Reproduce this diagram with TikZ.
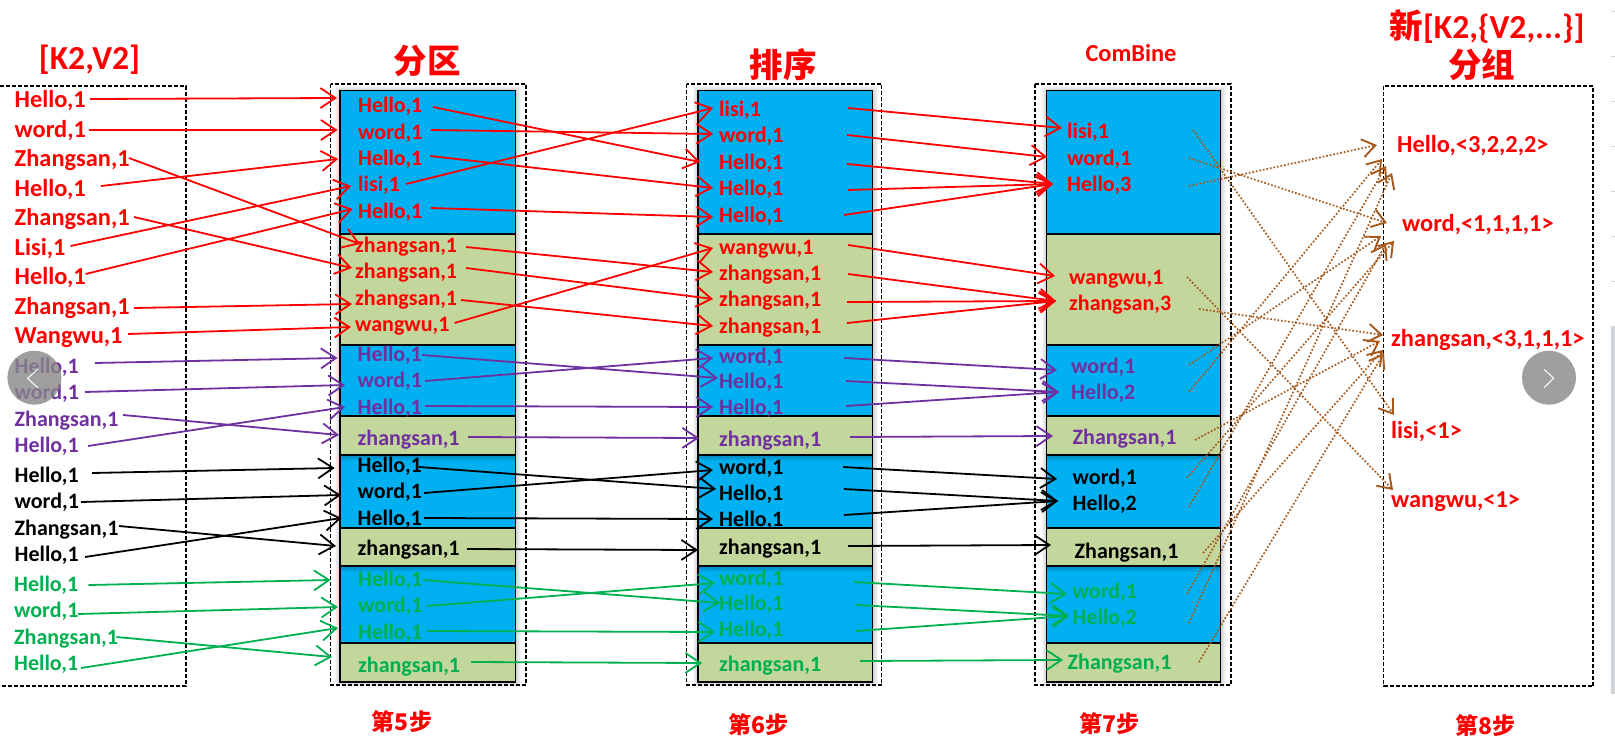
\documentclass[tikz,border=0pt]{standalone}
\usepackage{fontspec}
\setmainfont{Carlito}
\newfontfamily\cjk{Noto Sans CJK SC}
\usetikzlibrary{arrows.meta}
\definecolor{cblue}{HTML}{00B0F0}
\definecolor{cblued}{HTML}{0088BC}
\definecolor{cgreenbox}{HTML}{C3D69B}
\definecolor{cpurple}{HTML}{7030A0}
\definecolor{cgreen}{HTML}{00B050}
\definecolor{cbrown}{HTML}{A5591C}
\definecolor{cband}{HTML}{D2D5D8}
\tikzset{
 lbl/.style={anchor=west,inner sep=0pt,text height=18pt,text depth=3pt,font=\bfseries\fontsize{22}{24}\selectfont},
 lblbig/.style={lbl,font=\bfseries\fontsize{24.4}{27}\selectfont},
 lr/.style={lbl,text=red}, lp/.style={lbl,text=cpurple}, lk/.style={lbl,text=black}, lg/.style={lbl,text=cgreen},
 lrb/.style={lblbig,text=red},
 ttl/.style={inner sep=0pt,text=red,font=\bfseries\fontsize{33.6}{36}\selectfont},
 cjkttl/.style={inner sep=0pt,text=red,font=\cjk\bfseries\fontsize{33.5}{36}\selectfont},
 stepl/.style={inner sep=0pt,text=red,font=\cjk\bfseries\fontsize{23}{26}\selectfont},
 dbox/.style={draw=black,line width=1.4pt,dash pattern=on 4pt off 2pt},
 seg/.style={draw=black,line width=1.1pt},
 ra/.style={draw=red,line width=1.8pt,-{Straight Barb[length=15pt,width=20pt,line width=1.8pt]}},
 pa/.style={ra,draw=cpurple},
 ka/.style={ra,draw=black},
 ga/.style={ra,draw=cgreen},
 da/.style={draw=cbrown,line width=1.7pt,dash pattern=on 1.7pt off 1.9pt,-{Straight Barb[length=13pt,width=18pt,line width=1.9pt]}},
}
\newcommand{\conn}[7]{\draw[#1] ([shift={(#3,#4)}]#2.west) -- ([shift={(#6,#7)}]#5.west);}
\newcommand{\column}[2]{%
 \foreach \i in {1,...,5}{\fill[black,opacity=.035] (#1-\i,89.5-\i) rectangle (#2+\i,681+\i);}
 \fill[cblue] (#1,89.5) rectangle (#2,233);
 \fill[cgreenbox] (#1,233) rectangle (#2,344);
 \fill[cblue] (#1,344) rectangle (#2,415);
 \fill[cgreenbox] (#1,415) rectangle (#2,454);
 \fill[cblue] (#1,454) rectangle (#2,527);
 \fill[cgreenbox] (#1,527) rectangle (#2,565);
 \fill[cblue] (#1,565) rectangle (#2,642);
 \fill[cgreenbox] (#1,642) rectangle (#2,681);
 \shade[top color=cblued,bottom color=cblue] (#1,454) rectangle (#2,460);
 \shade[top color=cblued,bottom color=cblue] (#1,565) rectangle (#2,571);
 \draw[seg] (#1,89.5) rectangle (#2,681);
 \foreach \yy in {233,344,415,454,527,565,642}{\draw[seg] (#1,\yy) -- (#2,\yy);}
}
\begin{document}
\begin{tikzpicture}[x=1pt,y=-1pt]
\useasboundingbox (0,0) rectangle (1615,736);
\begin{scope}[yshift=-1pt]
% page furniture at the right edge
\fill[cband] (1611,325) rectangle (1615,693);
\foreach \yy in {10,55,100,145,190,235,280}{\draw[cband,line width=.8pt] (1611,\yy) -- (1615,\yy);}
% columns
\column{340}{515.7}
\column{698}{872.5}
\column{1046.5}{1220.5}
\draw[dbox] (0,85) -- (186,85) -- (186,685) -- (0,685);
\draw[dbox] (330.6,83) rectangle (526,684);
\draw[dbox] (686.7,83) rectangle (881.7,684);
\draw[dbox] (1035,83) rectangle (1231,684);
\draw[dbox] (1383.5,85) rectangle (1593,685);
% titles
\node[ttl] (t1) at (89.5,59) {[K2,V2]};
\node[cjkttl] (t2) at (427,60) {分区};
\node[cjkttl] (t3) at (783,64) {排序};
\node[inner sep=0pt,text=red,font=\fontsize{24.4}{27}\selectfont\bfseries] (t4) at (1131,52.5) {ComBine};
\node[ttl] (t5) at (1487,25.5) {{\cjk 新}[K2,\{V2,...\}]};
\node[cjkttl] (t6) at (1481.5,64) {分组};
\node[stepl] (s5) at (402,721) {第5步};
\node[stepl] (s6) at (758,724) {第6步};
\node[stepl] (s7) at (1109,723) {第7步};
\node[stepl] (s8) at (1485,725) {第8步};
% column 1
\node[lrb] (a1) at (14.5,99) {Hello,1};
\node[lrb] (a2) at (14.5,129) {word,1};
\node[lrb] (a3) at (14.5,158) {Zhangsan,1};
\node[lrb] (a4) at (14.5,188) {Hello,1};
\node[lrb] (a5) at (14.5,217) {Zhangsan,1};
\node[lrb] (a6) at (14.5,247) {Lisi,1};
\node[lrb] (a7) at (14.5,276) {Hello,1};
\node[lrb] (a8) at (14.5,306) {Zhangsan,1};
\node[lrb] (a9) at (14.5,335) {Wangwu,1};
\node[lp] (ap1) at (14.5,365) {Hello,1};
\node[lp] (ap2) at (14.5,391) {word,1};
\node[lp] (ap3) at (14.5,418) {Zhangsan,1};
\node[lp] (ap4) at (14.5,444) {Hello,1};
\node[lk] (ak1) at (14.5,474) {Hello,1};
\node[lk] (ak2) at (14.5,500) {word,1};
\node[lk] (ak3) at (14.5,527) {Zhangsan,1};
\node[lk] (ak4) at (14.5,553) {Hello,1};
\node[lg] (ag1) at (14,583) {Hello,1};
\node[lg] (ag2) at (14,609) {word,1};
\node[lg] (ag3) at (14,636) {Zhangsan,1};
\node[lg] (ag4) at (14,662) {Hello,1};
% column 2
\node[lr] (b1) at (358,104) {Hello,1};
\node[lr] (b2) at (358,131) {word,1};
\node[lr] (b3) at (358,157) {Hello,1};
\node[lr] (b4) at (358,183) {lisi,1};
\node[lr] (b5) at (358,210) {Hello,1};
\node[lr] (b6) at (355,244) {zhangsan,1};
\node[lr] (b7) at (355,270) {zhangsan,1};
\node[lr] (b8) at (355,297) {zhangsan,1};
\node[lr] (b9) at (355,323) {wangwu,1};
\node[lp] (bp1) at (357.5,353) {Hello,1};
\node[lp] (bp2) at (357.5,379) {word,1};
\node[lp] (bp3) at (357.5,406) {Hello,1};
\node[lp] (bp4) at (357.5,437) {zhangsan,1};
\node[lk] (bk1) at (357.5,464) {Hello,1};
\node[lk] (bk2) at (357.5,490) {word,1};
\node[lk] (bk3) at (357.5,517) {Hello,1};
\node[lk] (bk4) at (357.5,547) {zhangsan,1};
\node[lg] (bg1) at (358,578) {Hello,1};
\node[lg] (bg2) at (358,604) {word,1};
\node[lg] (bg3) at (358,631) {Hello,1};
\node[lg] (bg4) at (358,664) {zhangsan,1};
% column 3
\node[lr] (c1) at (719,108) {lisi,1};
\node[lr] (c2) at (719,134) {word,1};
\node[lr] (c3) at (719,161) {Hello,1};
\node[lr] (c4) at (719,187) {Hello,1};
\node[lr] (c5) at (719,214) {Hello,1};
\node[lr] (c6) at (719,246) {wangwu,1};
\node[lr] (c7) at (719,272) {zhangsan,1};
\node[lr] (c8) at (719,298) {zhangsan,1};
\node[lr] (c9) at (719,325) {zhangsan,1};
\node[lp] (cp1) at (719,355) {word,1};
\node[lp] (cp2) at (719,380) {Hello,1};
\node[lp] (cp3) at (719,406) {Hello,1};
\node[lp] (cp4) at (719,438) {zhangsan,1};
\node[lk] (ck1) at (719,466) {word,1};
\node[lk] (ck2) at (719,492) {Hello,1};
\node[lk] (ck3) at (719,518) {Hello,1};
\node[lk] (ck4) at (719,546) {zhangsan,1};
\node[lg] (cg1) at (719,577) {word,1};
\node[lg] (cg2) at (719,602) {Hello,1};
\node[lg] (cg3) at (719,628) {Hello,1};
\node[lg] (cg4) at (719,663) {zhangsan,1};
% column 4
\node[lr] (d1) at (1067,130) {lisi,1};
\node[lr] (d2) at (1067,157) {word,1};
\node[lr] (d3) at (1067,183) {Hello,3};
\node[lr] (d4) at (1069,276) {wangwu,1};
\node[lr] (d5) at (1069,302) {zhangsan,3};
\node[lp] (dp1) at (1071,365) {word,1};
\node[lp] (dp2) at (1071,391) {Hello,2};
\node[lp] (dp3) at (1072.5,436) {Zhangsan,1};
\node[lk] (dk1) at (1072.5,476) {word,1};
\node[lk] (dk2) at (1072.5,502) {Hello,2};
\node[lk] (dk3) at (1074.5,550) {Zhangsan,1};
\node[lg] (dg1) at (1072.5,590) {word,1};
\node[lg] (dg2) at (1072.5,616) {Hello,2};
\node[lg] (dg3) at (1067.5,661) {Zhangsan,1};
% result column
\node[lrb] (r1) at (1397,144) {Hello,<3,2,2,2>};
\node[lrb] (r2) at (1402,223) {word,<1,1,1,1>};
\node[lrb] (r3) at (1391,338) {zhangsan,<3,1,1,1>};
\node[lrb] (r4) at (1391,430) {lisi,<1>};
\node[lrb] (r5) at (1391,499) {wangwu,<1>};
% a -> b
\conn{ra}{a1}{75.5}{-1}{b1}{-21}{-7}
\conn{ra}{a2}{74}{0}{b2}{-20.5}{-2}
\conn{ra}{a3}{114.5}{-1}{b6}{5}{-1}
\conn{ra}{a4}{86.5}{-3}{b3}{-20}{1}
\conn{ra}{a5}{119.5}{-1}{b7}{-3}{-3}
\conn{ra}{a6}{56}{-2}{b4}{-7}{2}
\conn{ra}{a7}{71}{-3}{b5}{-5.4}{-2}
\conn{ra}{a8}{119.5}{1}{b8}{-3}{6}
\conn{ra}{a9}{113.5}{-2}{b9}{-4}{3}
\conn{pa}{ap1}{80.5}{-3}{bp1}{-20}{4}
\conn{pa}{ap2}{70.5}{0}{bp2}{-12.5}{5}
\conn{pa}{ap3}{108.5}{-4}{bp4}{-18.5}{-3}
\conn{pa}{ap4}{73.5}{1}{bp3}{-12.5}{0}
\conn{ka}{ak1}{77.5}{-2}{bk1}{-22.8}{3}
\conn{ka}{ak2}{66.5}{1}{bk2}{-16.5}{4}
\conn{ka}{ak3}{104.5}{-2}{bk4}{-21.5}{-2}
\conn{ka}{ak4}{70.5}{3}{bk3}{-16}{0}
\conn{ga}{ag1}{74.5}{1}{bg1}{-27.4}{1}
\conn{ga}{ag2}{64}{4}{bg2}{-20}{2}
\conn{ga}{ag3}{102.4}{0}{bg4}{-26}{-8}
\conn{ga}{ag4}{67}{5}{bg3}{-20}{-4}
% b -> c
\conn{ra}{b1}{75}{2}{c3}{-19}{0}
\conn{ra}{b2}{73}{-2}{c2}{-6}{-1}
\conn{ra}{b3}{72}{-2}{c4}{-6}{0}
\conn{ra}{b4}{48}{0}{c1}{-6}{-1}
\conn{ra}{b5}{73}{-3}{c5}{-6}{2}
\conn{ra}{b6}{111}{2}{c7}{-6}{-1}
\conn{ra}{b7}{111}{-3}{c8}{-6}{0}
\conn{ra}{b8}{106}{2}{c9}{-6}{0}
\conn{ra}{b9}{99.5}{-1}{c6}{-6}{1}
\conn{pa}{bp1}{64.5}{1}{cp2}{-1}{-3}
\conn{pa}{bp2}{67.5}{1}{cp1}{-6}{2}
\conn{pa}{bp3}{67.5}{-1}{cp3}{-6}{0}
\conn{pa}{bp4}{110.5}{-1}{cp4}{-20}{-1}
\conn{ka}{bk1}{61.5}{2}{ck2}{-3}{-4}
\conn{ka}{bk2}{66.5}{2}{ck1}{-6}{3}
\conn{ka}{bk3}{66.5}{0}{ck3}{-6}{0}
\conn{ka}{bk4}{109.5}{1}{ck4}{-21}{3}
\conn{ga}{bg1}{65}{1}{cg2}{1}{0}
\conn{ga}{bg2}{69}{1}{cg1}{-4}{5}
\conn{ga}{bg3}{69}{-1}{cg3}{-4}{3}
\conn{ga}{bg4}{113}{-3}{cg4}{-17}{-1}
% c -> d
\conn{ra}{c1}{129}{-1}{d1}{-5}{-3}
\conn{ra}{c2}{128}{0}{d2}{-20}{-1}
\conn{ra}{c3}{128}{2}{d3}{-14}{0}
\conn{ra}{c4}{129}{2}{d3}{-14}{0}
\conn{ra}{c5}{125}{0}{d3}{-14}{0}
\conn{ra}{c6}{129}{-2}{d4}{-14}{-1}
\conn{ra}{c7}{129}{1}{d5}{-13}{-2}
\conn{ra}{c8}{128}{3}{d5}{-13}{-2}
\conn{ra}{c9}{128}{-3}{d5}{-13}{-2}
\conn{pa}{cp1}{125}{2}{dp1}{-14}{4}
\conn{pa}{cp2}{127}{0}{dp2}{-12}{0}
\conn{pa}{cp3}{127}{-1}{dp2}{-12}{0}
\conn{pa}{cp4}{131}{-2}{dp3}{-19.5}{-1}
\conn{ka}{ck1}{124}{0}{dk1}{-15.5}{2}
\conn{ka}{ck2}{125}{-4}{dk2}{-14.5}{-2}
\conn{ka}{ck3}{125}{-4}{dk2}{-14.5}{-2}
\conn{ka}{ck4}{129}{-1}{dk3}{-23.5}{-6}
\conn{ga}{cg1}{135}{4}{dg1}{-5.5}{3}
\conn{ga}{cg2}{137}{2}{dg2}{-3.5}{-1}
\conn{ga}{cg3}{137}{2}{dg2}{-3.5}{-1}
\conn{ga}{cg4}{141}{-3}{dg3}{-4.5}{-2}
% d -> r
\conn{da}{d1}{126}{-1}{r4}{3}{-16}
\conn{da}{d2}{122}{0}{r2}{-15}{-1}
\conn{da}{d3}{122}{2}{r1}{-20}{0}
\conn{da}{d4}{118}{0}{r5}{2}{-10}
\conn{da}{d5}{130}{6}{r3}{-8}{-4}
\conn{da}{dp1}{118}{-1}{r2}{-21}{12}
\conn{da}{dp2}{118}{0}{r1}{-15}{14}
\conn{da}{dp3}{122.5}{3}{r3}{-11}{2}
\conn{da}{dk1}{114.5}{1}{r2}{-8}{17}
\conn{da}{dk2}{116.5}{4}{r1}{-11}{21}
\conn{da}{dk3}{128.5}{2}{r3}{-8}{11}
\conn{da}{dg1}{114.5}{3}{r2}{-16}{20}
\conn{da}{dg2}{116.5}{6}{r1}{-5}{28}
\conn{da}{dg3}{131.5}{0}{r3}{-7}{14}
% carousel buttons
\fill[fill=black!47,opacity=.8] (34.4,376.7) circle (27);
\fill[fill=black!47,opacity=.8] (1549,376.7) circle (27);
\draw[white,line width=1pt] (37.9,368.3) -- (27.5,377.3) -- (37.9,386.7);
\draw[white,line width=1pt] (1544,368.3) -- (1553.7,377.3) -- (1544,386.7);
\end{scope}
\end{tikzpicture}
\end{document}
